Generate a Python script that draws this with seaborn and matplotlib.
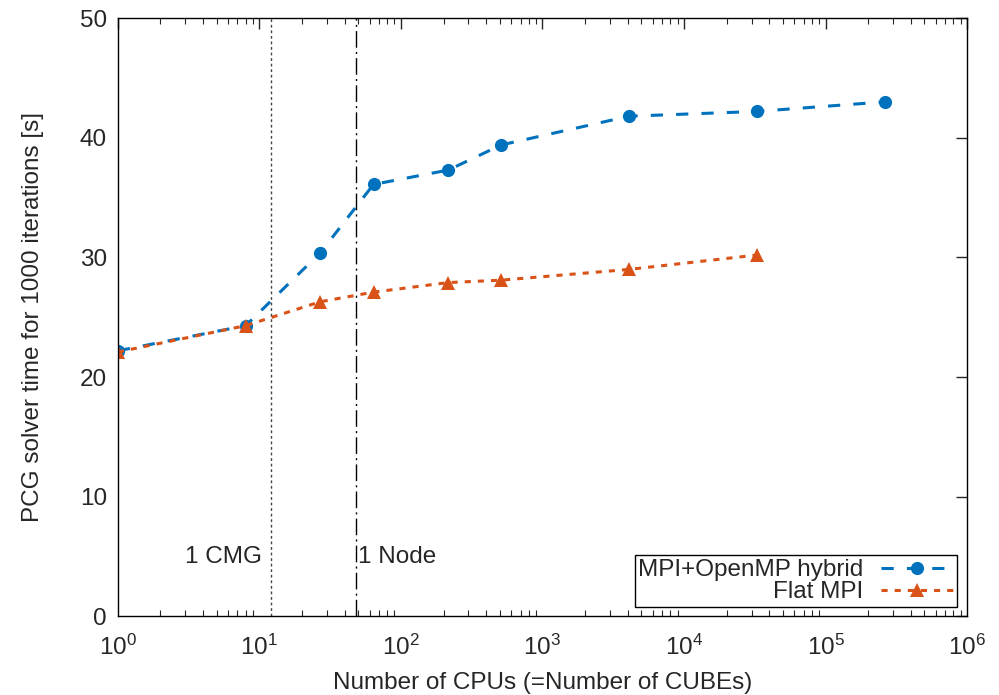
import matplotlib
matplotlib.use("Agg")
import matplotlib.pyplot as plt
import matplotlib.ticker as mticker
import numpy as np
import pandas as pd
import seaborn as sns

sns.set_theme(style="white")
plt.rcParams["font.family"] = ["Liberation Sans", "DejaVu Sans"]
plt.rcParams["mathtext.fontset"] = "custom"
plt.rcParams["mathtext.rm"] = "Liberation Sans"
plt.rcParams["mathtext.it"] = "Liberation Sans"

# number of CPUs (= number of CUBEs)
hybrid_cpus = [1, 8, 27, 64, 216, 512, 4096, 32768, 262144]
hybrid_time = [22.2, 24.3, 30.4, 36.1, 37.3, 39.4, 41.8, 42.2, 43.0]
flat_cpus = [1, 8, 27, 64, 216, 512, 4096, 32768]
flat_time = [22.1, 24.3, 26.3, 27.1, 27.9, 28.1, 29.0, 30.2]

CMG_X = 12
NODE_X = 48

BLUE = "#0072BD"
ORANGE = "#D95319"
FS = 17.5

hybrid_df = pd.DataFrame({"cpus": hybrid_cpus, "time": hybrid_time})
flat_df = pd.DataFrame({"cpus": flat_cpus, "time": flat_time})

fig, ax = plt.subplots(figsize=(9.99, 6.95), dpi=100)
fig.subplots_adjust(left=0.118, right=0.968, top=0.974, bottom=0.113)

sns.lineplot(data=hybrid_df, x="cpus", y="time", ax=ax, color=BLUE,
             marker="o", markersize=9.5, markeredgewidth=0, linewidth=2.2,
             label="MPI+OpenMP hybrid")
ax.lines[-1].set_dashes([4, 4.3])
sns.lineplot(data=flat_df, x="cpus", y="time", ax=ax, color=ORANGE,
             marker="^", markersize=9.5, markeredgewidth=0, linewidth=2.2,
             label="Flat MPI")
ax.lines[-1].set_dashes([2, 2.3])

ax.axvline(CMG_X, color="#444444", linestyle=(0, (2, 2)), linewidth=1.0)
ax.axvline(NODE_X, color="black", linestyle=(0, (12, 3, 1.5, 3)), linewidth=1.0)
ax.text(10.5, 5, "1 CMG", ha="right", va="center", fontsize=FS)
ax.text(50, 5, "1 Node", ha="left", va="center", fontsize=FS)

ax.set_xscale("log")
ax.set_xlim(1, 1e6)
ax.set_ylim(0, 50)
ax.set_yticks(np.arange(0, 51, 10))
ax.xaxis.set_major_locator(mticker.LogLocator(base=10, numticks=10))
ax.xaxis.set_minor_locator(mticker.LogLocator(base=10, subs=np.arange(2, 10), numticks=20))
ax.xaxis.set_minor_formatter(mticker.NullFormatter())

ax.set_xlabel("Number of CPUs (=Number of CUBEs)", fontsize=FS, labelpad=9)
ax.set_ylabel("PCG solver time for 1000 iterations [s]", fontsize=FS, labelpad=26)
ax.tick_params(axis="both", which="major", direction="in", length=8, width=1,
               top=True, right=True, labelsize=FS, pad=8)
ax.tick_params(axis="x", which="major", pad=13)
ax.tick_params(axis="x", which="minor", direction="in", length=4, width=0.8,
               top=True, bottom=True)
for sp in ax.spines.values():
    sp.set_color("black")
    sp.set_linewidth(1.0)

leg = ax.legend(loc="lower right", markerfirst=False, handlelength=3.0,
                fontsize=FS, frameon=True, fancybox=False, edgecolor="black",
                framealpha=1, borderaxespad=0.4, labelspacing=0.0,
                borderpad=0.15, handletextpad=0.7)
leg.get_frame().set_linewidth(1.0)

plt.savefig("out.png", dpi=100)
plt.close(fig)
